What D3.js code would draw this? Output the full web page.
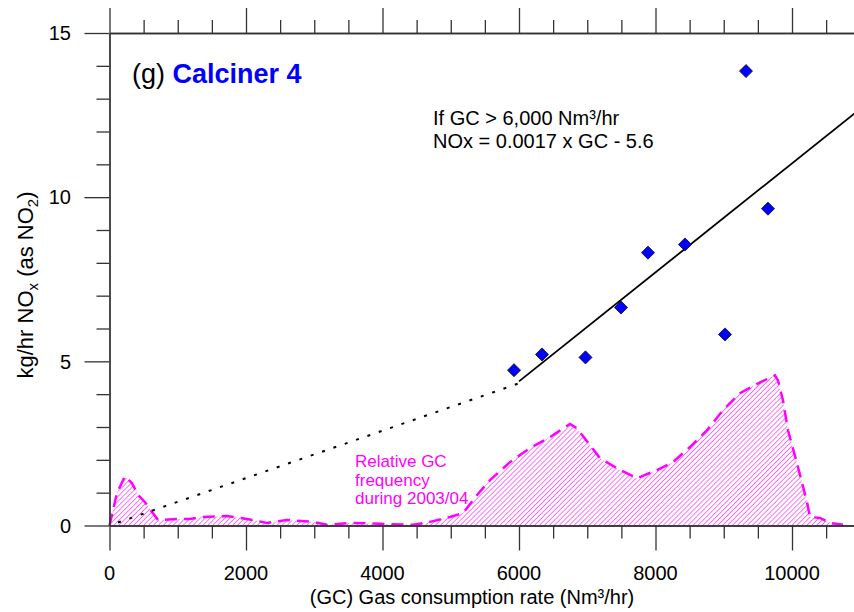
<!DOCTYPE html>
<html>
<head>
<meta charset="utf-8">
<script src="https://cdn.jsdelivr.net/npm/d3@7"></script>
<style>
body { margin: 0; background: #fff; }
text { font-family: "Liberation Sans", Arial, sans-serif; }
</style>
</head>
<body>
<div id="cContainer"></div>
<script>
// measured points (GC in Nm3/hr, NOx in kg/hr)
var gcPoints = [5927, 6337, 6974, 7495, 7890, 8432, 9018, 9326, 9648];
var noxPoints = [4.73, 5.21, 5.12, 6.64, 8.31, 8.56, 5.82, 13.84, 9.65];

// fitted line ends (solid above 6000, dotted below)
var fitX = [6000, 11000];
var fitY = [4.39, 12.69];
var lowX = [0, 6000];
var lowY = [0, 4.33];

// relative GC frequency outline, drawn on the kg/hr scale
var freqX = [0, 110, 227, 330, 418, 520, 623, 711, 784, 989, 1179, 1370, 1722, 2015, 2308, 2601, 2982, 3187, 3568, 3963,
	4447, 4696, 4989, 5180, 5385, 5575, 5868, 6161, 6454, 6747, 6850, 7187, 7480, 7729, 8022, 8256, 8505, 8754, 8989, 9238,
	9531, 9751, 9795, 9868, 9941, 10073, 10220, 10264, 10410, 10557, 10747];
var freqY = [0, 0.99, 1.50, 1.29, 0.93, 0.71, 0.41, 0.17, 0.17, 0.20, 0.20, 0.26, 0.29, 0.20, 0.08, 0.17, 0.11, 0.02, 0.08, 0.05,
	0.02, 0.11, 0.26, 0.38, 0.93, 1.38, 1.93, 2.36, 2.69, 3.09, 2.96, 2.05, 1.69, 1.44, 1.69, 1.93, 2.39, 2.90, 3.51, 4.03,
	4.36, 4.57, 4.42, 3.81, 2.90, 1.90, 0.71, 0.26, 0.23, 0.08, 0.02];

var xMajor = [0, 2000, 4000, 6000, 8000, 10000];
var yMajor = [0, 5, 10, 15];

var width = 854, height = 612;
var axisColor = "#333";

var svg = d3.select("#cContainer").append("svg")
	.attr("width", width)
	.attr("height", height);

var x = d3.scaleLinear().domain([0, 11000]).range([109.5, 860.25]);
var y = d3.scaleLinear().domain([0, 15]).range([525.5, 33]);

var xMinor = d3.range(0, 11001, 500).filter(function(v) { return v % 2000 != 0; });
var yMinor = d3.range(0, 16, 1).filter(function(v) { return v % 5 != 0; });

// hatch pattern for the frequency area
var defs = svg.append("defs");
defs.append("pattern")
	.attr("id", "hatch")
	.attr("patternUnits", "userSpaceOnUse")
	.attr("width", 3.5)
	.attr("height", 10)
	.attr("patternTransform", "rotate(45)")
	.append("line")
	.attr("x1", 0).attr("y1", 0)
	.attr("x2", 0).attr("y2", 10)
	.attr("stroke", "#ff00ff")
	.attr("stroke-width", 1.1);

var freq = freqX.map(function(d, i) { return {x: d, y: freqY[i]}; });

svg.append("path")
	.datum(freq)
	.attr("fill", "url(#hatch)")
	.attr("d", d3.area()
		.x(function(d) { return x(d.x); })
		.y0(y(0))
		.y1(function(d) { return y(d.y); }));

svg.append("path")
	.datum(freq)
	.attr("fill", "none")
	.attr("stroke", "#ff00ff")
	.attr("stroke-width", 2.5)
	.attr("stroke-dasharray", "12,7")
	.attr("d", d3.line()
		.x(function(d) { return x(d.x); })
		.y(function(d) { return y(d.y); }));

// axes
function styleAxis(g) {
	g.select(".domain").attr("stroke", axisColor).attr("stroke-width", 1.3);
	g.selectAll(".tick line").attr("stroke", axisColor).attr("stroke-width", 1.3);
	g.selectAll("text").remove();
}

svg.append("g").attr("transform", "translate(0," + y(0) + ")")
	.call(d3.axisBottom(x).tickValues(xMinor).tickSize(13).tickSizeOuter(0)).call(styleAxis);
svg.append("g").attr("transform", "translate(0," + y(0) + ")")
	.call(d3.axisBottom(x).tickValues(xMajor).tickSize(25).tickSizeOuter(0)).call(styleAxis);
svg.append("g").attr("transform", "translate(0," + y(15) + ")")
	.call(d3.axisTop(x).tickValues(xMinor).tickSize(13).tickSizeOuter(0)).call(styleAxis);
svg.append("g").attr("transform", "translate(0," + y(15) + ")")
	.call(d3.axisTop(x).tickValues(xMajor).tickSize(25).tickSizeOuter(0)).call(styleAxis);
svg.append("g").attr("transform", "translate(" + x(0) + ",0)")
	.call(d3.axisLeft(y).tickValues(yMinor).tickSize(13).tickSizeOuter(0)).call(styleAxis);
svg.append("g").attr("transform", "translate(" + x(0) + ",0)")
	.call(d3.axisLeft(y).tickValues(yMajor).tickSize(25).tickSizeOuter(0)).call(styleAxis);

svg.selectAll(".xlab")
	.data(xMajor)
	.enter()
	.append("text")
	.attr("x", function(d) { return x(d); })
	.attr("y", 580)
	.attr("text-anchor", "middle")
	.attr("font-size", 20)
	.text(function(d) { return d; });

svg.selectAll(".ylab")
	.data(yMajor)
	.enter()
	.append("text")
	.attr("x", 71)
	.attr("y", function(d) { return y(d); })
	.attr("dy", "0.36em")
	.attr("text-anchor", "end")
	.attr("font-size", 20)
	.text(function(d) { return d; });

svg.append("text")
	.attr("x", 472)
	.attr("y", 604)
	.attr("text-anchor", "middle")
	.attr("font-size", 20)
	.text("(GC) Gas consumption rate (Nm³/hr)");

var yTitle = svg.append("text")
	.attr("transform", "translate(33,285) rotate(-90)")
	.attr("text-anchor", "middle")
	.attr("font-size", 22);
yTitle.append("tspan").text("kg/hr NO");
yTitle.append("tspan").attr("font-size", 15).attr("dy", 5).text("x");
yTitle.append("tspan").attr("dy", -5).text(" (as NO");
yTitle.append("tspan").attr("font-size", 15).attr("dy", 5).text("2");
yTitle.append("tspan").attr("dy", -5).text(")");

// fit lines
svg.append("line")
	.attr("x1", x(lowX[0])).attr("y1", y(lowY[0]))
	.attr("x2", x(lowX[1])).attr("y2", y(lowY[1]))
	.attr("stroke", "black")
	.attr("stroke-width", 2)
	.attr("stroke-dasharray", "3,9")
	.attr("stroke-dashoffset", 3);

svg.append("line")
	.attr("x1", x(fitX[0])).attr("y1", y(fitY[0]))
	.attr("x2", x(fitX[1])).attr("y2", y(fitY[1]))
	.attr("stroke", "black")
	.attr("stroke-width", 1.8);

// data points
svg.selectAll(".pt")
	.data(gcPoints)
	.enter()
	.append("path")
	.attr("d", d3.symbol().type(d3.symbolSquare).size(85))
	.attr("transform", function(d, i) { return "translate(" + x(d) + "," + y(noxPoints[i]) + ") rotate(45)"; })
	.attr("fill", "#0000ff")
	.attr("stroke", "#111")
	.attr("stroke-width", 0.8);

// annotations
var title = svg.append("text")
	.attr("x", 132)
	.attr("y", 83)
	.attr("font-size", 27);
title.append("tspan").text("(g) ");
title.append("tspan").attr("fill", "#0000ff").attr("font-weight", "bold").text("Calciner 4");

svg.append("text").attr("x", 433).attr("y", 125).attr("font-size", 20).text("If GC > 6,000 Nm³/hr");
svg.append("text").attr("x", 433).attr("y", 148).attr("font-size", 20).text("NOx = 0.0017 x GC - 5.6");

var freqLabel = ["Relative GC", "frequency", "during 2003/04"];
svg.selectAll(".flab")
	.data(freqLabel)
	.enter()
	.append("text")
	.attr("x", 355)
	.attr("y", function(d, i) { return 467 + i * 18.5; })
	.attr("font-size", 17)
	.attr("fill", "#ff00ff")
	.text(function(d) { return d; });
</script>
</body>
</html>
